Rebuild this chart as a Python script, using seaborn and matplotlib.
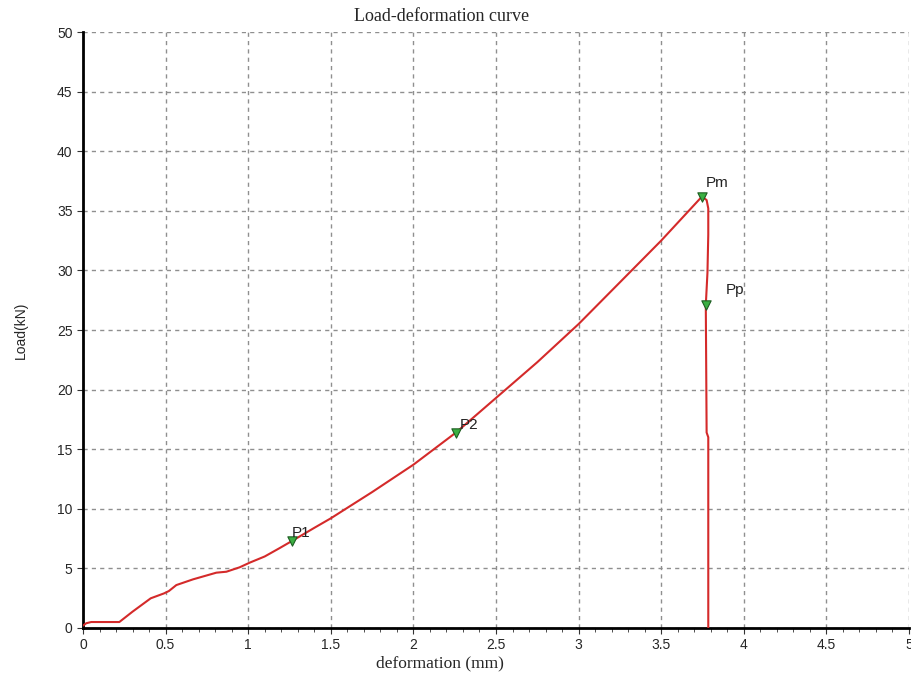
import numpy as np
import pandas as pd
import matplotlib
matplotlib.use("Agg")
import matplotlib.pyplot as plt
import seaborn as sns
from matplotlib.ticker import MultipleLocator

# load-deformation test record
deformation = [0.0, 0.02, 0.05, 0.22, 0.30, 0.41, 0.49, 0.52, 0.565, 0.666, 0.807,
               0.868, 0.948, 1.009, 1.1, 1.19, 1.265, 1.4, 1.5, 1.75, 2.0, 2.258,
               2.5, 2.75, 3.0, 3.25, 3.5, 3.747, 3.775, 3.785, 3.785, 3.78, 3.77,
               3.775, 3.785, 3.785]
load = [0.2, 0.4, 0.5, 0.5, 1.37, 2.49, 2.9, 3.1, 3.6, 4.08, 4.64,
        4.72, 5.09, 5.48, 6.0, 6.7, 7.3, 8.4, 9.2, 11.4, 13.7, 16.4,
        19.3, 22.3, 25.5, 29.0, 32.5, 36.2, 35.9, 35.2, 33.0, 29.8, 27.1,
        16.4, 16.0, 0.0]

point_names = ["P1", "P2", "Pm", "Pp"]
point_x = [1.265, 2.258, 3.747, 3.77]
point_y = [7.3, 16.4, 36.2, 27.1]
label_dx = [0.0, 0.02, 0.02, 0.12]
label_dy = [0.3, 0.3, 0.8, 0.9]

curve = pd.DataFrame({"deformation": deformation, "load": load})
points = pd.DataFrame({"x": point_x, "y": point_y, "name": point_names})

sns.set_style("white")
plt.rcParams["font.family"] = ["Liberation Sans", "DejaVu Sans"]

fig = plt.figure(figsize=(9.11, 6.77), dpi=100)
ax = fig.add_axes([0.0911, 0.0724, 0.9067, 0.8803])

ax.grid(True, color="#8f8f8f", linestyle=(0, (3, 3)), linewidth=1)
sns.lineplot(data=curve, x="deformation", y="load", sort=False, estimator=None,
             color="#d42a2a", linewidth=1.5, ax=ax, zorder=3)
sns.scatterplot(data=points, x="x", y="y", marker="v", s=45,
                color="#3cb043", edgecolor="#1d5e22", linewidth=0.8,
                ax=ax, zorder=4)
for n, x, y, dx, dy in zip(point_names, point_x, point_y, label_dx, label_dy):
    ax.text(x + dx, y + dy, n, fontsize=11, color="#222222", zorder=5)

ax.set_xlim(0, 5)
ax.set_ylim(0, 50)
ax.xaxis.set_minor_locator(MultipleLocator(0.1))
ax.yaxis.set_major_locator(MultipleLocator(5))
ax.set_xticks(np.arange(0, 5.01, 0.5))
ax.set_xticklabels(["0", "0.5", "1", "1.5", "2", "2.5", "3", "3.5", "4", "4.5", "5"])

for side in ["top", "right"]:
    ax.spines[side].set_visible(False)
for side in ["left", "bottom"]:
    ax.spines[side].set_linewidth(2)
    ax.spines[side].set_color("black")

ax.tick_params(axis="both", which="major", labelsize=10, length=4,
               direction="out", color="#333333", left=True, bottom=True)
ax.tick_params(axis="x", which="minor", length=3, direction="out",
               color="#333333", bottom=True)

ax.set_xlabel("")
ax.set_ylabel("Load(kN)", fontsize=10, labelpad=21)
fig.text(0.483, 0.02, "deformation (mm)", fontsize=12.5,
         family="Liberation Serif", ha="center", va="center")
fig.text(0.485, 0.975, "Load-deformation curve", fontsize=13,
         family="Liberation Serif", ha="center", va="center")

fig.savefig("out.png", dpi=100)
